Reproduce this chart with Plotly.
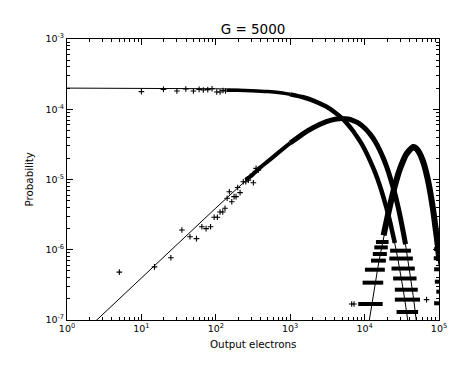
import plotly.graph_objects as go

# ---------------- text ----------------
title_text = "G = 5000"
x_title = "Output electrons"
y_title = "Probability"
x_tick_vals = [1, 10, 100, 1000, 10000, 100000]
x_tick_labels = ["10<sup>0</sup>", "10<sup>1</sup>", "10<sup>2</sup>", "10<sup>3</sup>", "10<sup>4</sup>", "10<sup>5</sup>"]
y_tick_vals = [1e-7, 1e-6, 1e-5, 1e-4, 1e-3]
y_tick_labels = ["10<sup>-7</sup>", "10<sup>-6</sup>", "10<sup>-5</sup>", "10<sup>-4</sup>", "10<sup>-3</sup>"]

# ---------------- model curves (solid lines) ----------------
curve_x = [1, 2, 3, 5, 7, 10, 20, 30, 50, 70, 100, 200, 300, 500, 700, 1000, 1500, 2000,
           3000, 4000, 5000, 6000, 7000, 8000, 9000, 10000, 11000, 12000, 13000, 14000,
           15000, 16000, 18000, 20000, 22000, 25000, 28000, 30000, 33000, 36000, 40000,
           45000, 50000]
curve_1 = [2.0e-4, 2.0e-4, 2.0e-4, 1.998e-4, 1.997e-4, 1.996e-4, 1.992e-4, 1.988e-4, 1.980e-4,
           1.972e-4, 1.960e-4, 1.922e-4, 1.884e-4, 1.810e-4, 1.739e-4, 1.637e-4, 1.482e-4,
           1.341e-4, 1.098e-4, 8.99e-5, 7.36e-5, 6.02e-5, 4.93e-5, 4.04e-5, 3.31e-5, 2.71e-5,
           2.22e-5, 1.81e-5, 1.49e-5, 1.22e-5, 9.96e-6, 8.15e-6, 5.46e-6, 3.66e-6, 2.46e-6,
           1.35e-6, 7.40e-7, 4.96e-7, 2.72e-7, 1.49e-7, 6.7e-8, None, None]
curve_2 = [4.0e-8, 8.0e-8, 1.2e-7, 2.0e-7, 2.8e-7, 3.99e-7, 7.97e-7, 1.193e-6, 1.98e-6, 2.76e-6,
           3.92e-6, 7.69e-6, 1.13e-5, 1.81e-5, 2.43e-5, 3.27e-5, 4.45e-5, 5.36e-5, 6.59e-5,
           7.19e-5, 7.36e-5, 7.23e-5, 6.90e-5, 6.46e-5, 5.95e-5, 5.41e-5, 4.88e-5, 4.35e-5,
           3.86e-5, 3.42e-5, 2.99e-5, 2.61e-5, 1.97e-5, 1.47e-5, 1.08e-5, 6.74e-6, 4.14e-6,
           2.97e-6, 1.80e-6, 1.07e-6, 5.37e-7, 2.22e-7, 9.08e-8]
curve10_x = [10000, 11000, 12000, 13000, 14000, 15000, 16000, 18000, 20000, 22000, 25000, 28000,
             30000, 33000, 36000, 40000, 45000, 50000, 55000, 60000, 70000, 80000, 90000, 100000]
curve_10 = [3.82e-8, 7.37e-8, 1.32e-7, 2.22e-7, 3.54e-7, 5.40e-7, 7.90e-7, 1.53e-6, 2.65e-6,
            4.18e-6, 7.25e-6, 1.104e-5, 1.377e-5, 1.78e-5, 2.14e-5, 2.48e-5, 2.64e-5, 2.50e-5,
            2.17e-5, 1.75e-5, 9.47e-6, 4.26e-6, 1.67e-6, 5.8e-7]

# ---------------- simulated histograms (plus symbols) ----------------
sim1_pts_x = [10, 19.8, 30, 39.5, 50, 59.7, 68, 78, 89, 103, 114, 125, 135]
sim1_pts_y = [1.78e-4, 1.92e-4, 1.82e-4, 1.94e-4, 1.82e-4, 1.92e-4, 1.88e-4, 1.90e-4, 1.96e-4,
              1.76e-4, 1.76e-4, 1.85e-4, 1.82e-4]
sim1_loose_x = [140, 200, 300, 500, 700, 1000]
sim1_loose_y = [1.86e-4, 1.86e-4, 1.84e-4, 1.79e-4, 1.73e-4, 1.63e-4]
sim1_dense_x = [1000, 1500, 2000, 3000, 4000, 5000, 6000, 7000, 8000, 9000, 10000, 12000, 14000,
                16000, 18000, 20000, 22000, 24000, 25500]
sim1_dense_y = [1.63e-4, 1.48e-4, 1.34e-4, 1.10e-4, 9.0e-5, 7.4e-5, 6.0e-5, 4.9e-5, 4.0e-5,
                3.3e-5, 2.7e-5, 1.8e-5, 1.22e-5, 8.2e-6, 5.5e-6, 3.7e-6, 2.5e-6, 1.65e-6, 1.25e-6]

sim2_pts_x = [5.05, 15, 24.9, 35, 45, 55, 65, 74, 85, 95, 105, 114, 124, 133, 142, 152, 164, 176,
              187, 197, 212, 234, 253, 274, 289, 320, 320, 348, 373]
sim2_pts_y = [4.8e-7, 5.7e-7, 7.7e-7, 1.91e-6, 1.53e-6, 1.44e-6, 2.13e-6, 2.0e-6, 2.13e-6, 2.9e-6,
              2.9e-6, 3.44e-6, 3.44e-6, 3.9e-6, 5.4e-6, 6.7e-6, 4.83e-6, 5.7e-6, 5.7e-6, 7.7e-6,
              6.5e-6, 9.3e-6, 9.3e-6, 9.8e-6, 1.1e-5, 1.22e-5, 9.0e-6, 1.44e-5, 1.36e-5]
sim2_loose_x = [250, 300, 400, 500, 700, 1000]
sim2_loose_y = [9.9e-6, 1.13e-5, 1.5e-5, 1.81e-5, 2.43e-5, 3.3e-5]
sim2_dense_x = [1000, 1500, 2000, 3000, 4000, 5000, 6000, 7000, 8000, 10000, 12000, 14000, 16000,
                18000, 20000, 22000, 25000, 28000, 30000, 33000, 35500]
sim2_dense_y = [3.3e-5, 4.5e-5, 5.4e-5, 6.6e-5, 7.2e-5, 7.4e-5, 7.25e-5, 6.9e-5, 6.5e-5, 5.4e-5,
                4.35e-5, 3.42e-5, 2.61e-5, 1.97e-5, 1.47e-5, 1.08e-5, 6.8e-6, 4.2e-6, 3.0e-6,
                1.8e-6, 1.2e-6]

sim10_dense_x = [18000, 19000, 20000, 22000, 25000, 28000, 30000, 33000, 36000, 40000, 45000,
                 50000, 55000, 60000, 65000, 70000, 75000, 80000, 85000, 90000, 95000, 100000]
sim10_dense_y = [1.6e-6, 2.1e-6, 2.7e-6, 4.3e-6, 7.5e-6, 1.15e-5, 1.43e-5, 1.85e-5, 2.25e-5,
                 2.6e-5, 2.9e-5, 2.75e-5, 2.35e-5, 1.9e-5, 1.45e-5, 1.05e-5, 7.3e-6, 4.9e-6,
                 3.2e-6, 2.0e-6, 1.3e-6, 8e-7]

# quantised low-count rows: level, first x, last x
streak_level = [1.69e-7, 3.4e-7, 5.2e-7, 7.0e-7, 8.7e-7, 1.08e-6, 1.29e-6,
                1.3e-7, 1.95e-7, 2.7e-7, 3.9e-7, 5.4e-7, 7.5e-7, 9.7e-7,
                1.73e-7, 2.53e-7, 3.51e-7, 5.27e-7, 7.57e-7, 1.02e-6]
streak_x0 = [8200, 9400, 10100, 12200, 12900, 13500, 14200,
             26900, 25500, 25500, 24200, 23000, 21500, 22000,
             86000, 92000, 88000, 86000, 85000, 86000]
streak_x1 = [17500, 17800, 18700, 19300, 19900, 20500, 21000,
             52400, 55500, 51800, 49900, 47300, 44500, 42000,
             105000, 105000, 105000, 105000, 105000, 105000]
extra_x = [6700, 7200, 68000]
extra_y = [1.69e-7, 1.69e-7, 1.95e-7]

# ---------------- figure ----------------
FONT = "DejaVu Sans"
fig = go.Figure()

plus = dict(symbol="cross-thin", size=4, color="black", line=dict(color="black", width=1.1))

fig.add_trace(go.Scatter(x=sim1_pts_x, y=sim1_pts_y, mode="markers", marker=plus, showlegend=False))
fig.add_trace(go.Scatter(x=sim2_pts_x, y=sim2_pts_y, mode="markers", marker=plus, showlegend=False))
fig.add_trace(go.Scatter(x=extra_x, y=extra_y, mode="markers", marker=plus, showlegend=False))

for bx, by, w in [(sim1_loose_x, sim1_loose_y, 3.5), (sim2_loose_x, sim2_loose_y, 4),
                  (sim1_dense_x, sim1_dense_y, 4.5), (sim2_dense_x, sim2_dense_y, 5),
                  (sim10_dense_x, sim10_dense_y, 6)]:
    fig.add_trace(go.Scatter(x=bx, y=by, mode="lines",
                             line=dict(color="black", width=w, shape="spline", smoothing=0.6),
                             showlegend=False))

sx, sy = [], []
for lv, a, b in zip(streak_level, streak_x0, streak_x1):
    sx += [a, b, None]
    sy += [lv, lv, None]
fig.add_trace(go.Scatter(x=sx, y=sy, mode="lines", line=dict(color="black", width=4),
                         showlegend=False))

fig.add_trace(go.Scatter(x=curve_x, y=curve_1, mode="lines", line=dict(color="black", width=1),
                         showlegend=False))
fig.add_trace(go.Scatter(x=curve_x, y=curve_2, mode="lines", line=dict(color="black", width=1),
                         showlegend=False))
fig.add_trace(go.Scatter(x=curve10_x, y=curve_10, mode="lines", line=dict(color="black", width=1),
                         showlegend=False))

x_minor = [m * 10 ** k for k in range(0, 5) for m in range(2, 10)]
y_minor = [m * 10.0 ** k for k in range(-7, -3) for m in range(2, 10)]

axis_common = dict(type="log", ticks="inside", ticklen=6, tickwidth=1, tickcolor="black",
                   showline=True, linecolor="black", linewidth=1, mirror="ticks",
                   showgrid=False, zeroline=False, automargin=False,
                   tickfont=dict(family=FONT, size=9.5, color="black"))

fig.update_xaxes(range=[0, 5], tickvals=x_tick_vals, ticktext=x_tick_labels,
                 minor=dict(ticks="inside", ticklen=3, tickwidth=1, tickcolor="black",
                            tickvals=x_minor, showgrid=False), **axis_common)
fig.update_yaxes(range=[-7, -3], tickvals=y_tick_vals, ticktext=y_tick_labels,
                 minor=dict(ticks="inside", ticklen=3, tickwidth=1, tickcolor="black",
                            tickvals=y_minor, showgrid=False), **axis_common)

fig.update_layout(
    width=464, height=365,
    margin=dict(l=67, r=25, t=39, b=45),
    paper_bgcolor="white", plot_bgcolor="white",
    title=dict(text=title_text, x=0.5, xref="paper", y=1 - 29 / 365, yanchor="middle",
               font=dict(family=FONT, size=13.5, color="black")),
    annotations=[
        dict(text=x_title, xref="paper", yref="paper", x=0.5, y=-24 / 281, xanchor="center",
             yanchor="middle", showarrow=False, font=dict(family=FONT, size=10.3, color="black")),
        dict(text=y_title, xref="paper", yref="paper", x=-39 / 372, y=0.5, xanchor="center",
             yanchor="middle", textangle=-90, showarrow=False,
             font=dict(family=FONT, size=10.3, color="black")),
    ],
)

fig.write_html("out.html", config={"displayModeBar": False},
               post_script="document.body.style.margin='0';document.body.style.padding='0';")
